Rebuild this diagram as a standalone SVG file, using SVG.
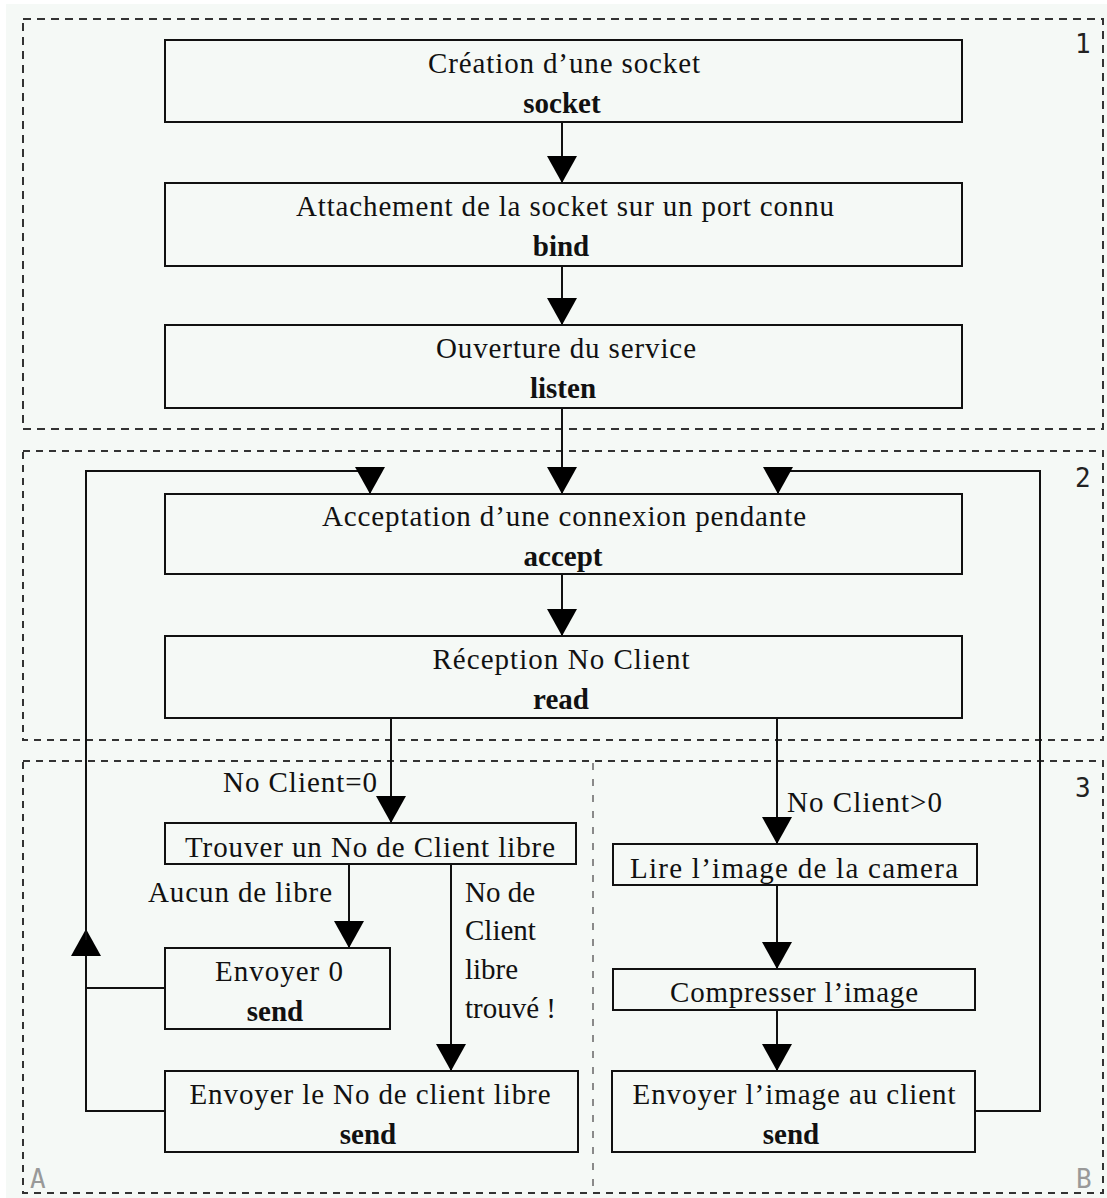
<svg xmlns="http://www.w3.org/2000/svg" width="1107" height="1198" viewBox="0 0 1107 1198">
<style>
.bg{fill:#f5f9f6}
.box{fill:none;stroke:#111;stroke-width:2}
.sec{fill:none;stroke:#333;stroke-width:2}
.d1{stroke-dasharray:8 6}
.d2{stroke-dasharray:7 6}
.div{stroke:#8a8a8a;stroke-width:2;stroke-dasharray:7 9;fill:none}
.t{font-family:"Liberation Serif","Times New Roman",serif;font-size:29px;fill:#111}
.c{text-anchor:middle}
.b{font-weight:bold}
.num{font-family:"DejaVu Sans Mono","Liberation Mono",monospace;font-size:26px;fill:#222}
.let{font-family:"DejaVu Sans Mono","Liberation Mono",monospace;font-size:26px;fill:#999}
.con{fill:none;stroke:#111;stroke-width:2}
</style>
<defs>
<marker id="ah" viewBox="0 0 27 30" markerWidth="27" markerHeight="30" refX="27" refY="15" orient="auto" markerUnits="userSpaceOnUse">
<path d="M0,0 L27,15 L0,30 z" fill="#000"/>
</marker>
</defs>
<rect class="bg" x="6" y="4" width="1101" height="1194"/>

<g id="sections">
<rect class="sec d1" x="23" y="19" width="1080" height="410"/>
<rect class="sec d2" x="23" y="451" width="1080" height="289"/>
<rect class="sec d2" x="23" y="761" width="1080" height="432"/>
<line class="div" x1="593" y1="763" x2="593" y2="1192"/>
<text class="num" x="1075" y="53">1</text>
<text class="num" x="1075" y="487">2</text>
<text class="num" x="1075" y="797">3</text>
<text class="let" x="30" y="1188">A</text>
<text class="let" x="1076" y="1188">B</text>
</g>

<g id="connectors">
<path class="con" d="M562,122 V183" marker-end="url(#ah)"/>
<path class="con" d="M562,266 V325" marker-end="url(#ah)"/>
<path class="con" d="M562,408 V494" marker-end="url(#ah)"/>
<path class="con" d="M562,574 V636" marker-end="url(#ah)"/>
<path class="con" d="M391,718 V823" marker-end="url(#ah)"/>
<path class="con" d="M777,718 V844" marker-end="url(#ah)"/>
<path class="con" d="M349,864 V948" marker-end="url(#ah)"/>
<path class="con" d="M451,864 V1071" marker-end="url(#ah)"/>
<path class="con" d="M777,885 V969" marker-end="url(#ah)"/>
<path class="con" d="M777,1010 V1071" marker-end="url(#ah)"/>
<path class="con" d="M165,1111 H86 V929" marker-end="url(#ah)"/>
<path class="con" d="M86,940 V471 H370 V494" marker-end="url(#ah)"/>
<path class="con" d="M165,988 H86"/>
<path class="con" d="M975,1111 H1040 V471 H778 V494" marker-end="url(#ah)"/>
<text class="t" x="223" y="792" textLength="154" lengthAdjust="spacing">No Client=0</text>
<text class="t" x="787" y="812" textLength="155" lengthAdjust="spacing">No Client&gt;0</text>
<text class="t" x="148" y="902" textLength="184" lengthAdjust="spacing">Aucun de libre</text>
<text class="t" x="465" y="902">No de</text>
<text class="t" x="465" y="940">Client</text>
<text class="t" x="465" y="979">libre</text>
<text class="t" x="465" y="1018">trouvé !</text>
</g>

<g id="n-socket">
<rect class="box" x="165" y="40" width="797" height="82"/>
<text class="t c" x="564" y="73" textLength="272" lengthAdjust="spacing">Création d’une socket</text>
<text class="t c b" x="562" y="113">socket</text>
</g>
<g id="n-bind">
<rect class="box" x="165" y="183" width="797" height="83"/>
<text class="t c" x="565" y="216" textLength="538" lengthAdjust="spacing">Attachement de la socket sur un port connu</text>
<text class="t c b" x="561" y="256">bind</text>
</g>
<g id="n-listen">
<rect class="box" x="165" y="325" width="797" height="83"/>
<text class="t c" x="566" y="358" textLength="260" lengthAdjust="spacing">Ouverture du service</text>
<text class="t c b" x="563" y="398">listen</text>
</g>
<g id="n-accept">
<rect class="box" x="165" y="494" width="797" height="80"/>
<text class="t c" x="564" y="526" textLength="484" lengthAdjust="spacing">Acceptation d’une connexion pendante</text>
<text class="t c b" x="563" y="566">accept</text>
</g>
<g id="n-read">
<rect class="box" x="165" y="636" width="797" height="82"/>
<text class="t c" x="561" y="669" textLength="257" lengthAdjust="spacing">Réception No Client</text>
<text class="t c b" x="561" y="709">read</text>
</g>
<g id="n-trouver">
<rect class="box" x="165" y="823" width="411" height="41"/>
<text class="t c" x="370" y="857" textLength="370" lengthAdjust="spacing">Trouver un No de Client libre</text>
</g>
<g id="n-envoyer0">
<rect class="box" x="165" y="948" width="225" height="81"/>
<text class="t c" x="279" y="981" textLength="128" lengthAdjust="spacing">Envoyer 0</text>
<text class="t c b" x="275" y="1021">send</text>
</g>
<g id="n-envoyer-no">
<rect class="box" x="165" y="1071" width="413" height="81"/>
<text class="t c" x="370" y="1104" textLength="361" lengthAdjust="spacing">Envoyer le No de client libre</text>
<text class="t c b" x="368" y="1144">send</text>
</g>
<g id="n-lire">
<rect class="box" x="613" y="844" width="364" height="41"/>
<text class="t c" x="794" y="878" textLength="328" lengthAdjust="spacing">Lire l’image de la camera</text>
</g>
<g id="n-compresser">
<rect class="box" x="613" y="969" width="362" height="41"/>
<text class="t c" x="794" y="1002" textLength="248" lengthAdjust="spacing">Compresser l’image</text>
</g>
<g id="n-envoyer-image">
<rect class="box" x="612" y="1071" width="363" height="81"/>
<text class="t c" x="794" y="1104" textLength="323" lengthAdjust="spacing">Envoyer l’image au client</text>
<text class="t c b" x="791" y="1144">send</text>
</g>
</svg>
